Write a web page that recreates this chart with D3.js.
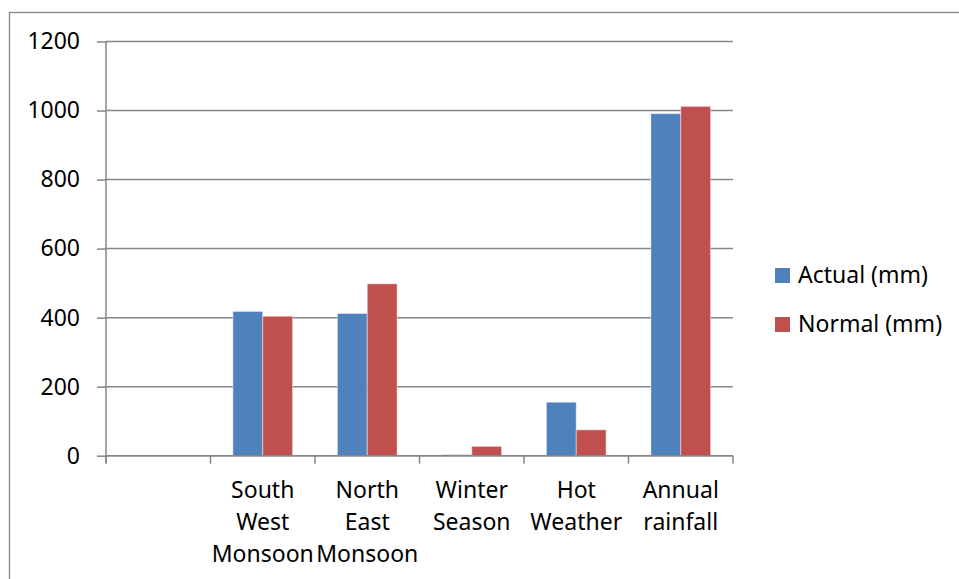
<!DOCTYPE html>
<html>
<head>
<meta charset="utf-8">
<script src="https://cdn.jsdelivr.net/npm/d3@7"></script>
<style>
  html, body { margin: 0; padding: 0; background: #fff; overflow: hidden; }
  svg { display: block; }
  text { font-family: "Noto Sans", "Open Sans", sans-serif; fill: #000; }
</style>
</head>
<body>
<svg id="chart" width="959" height="579"></svg>
<script>
const categories = ["", "South West Monsoon", "North East Monsoon", "Winter Season", "Hot Weather", "Annual rainfall"];
const seriesNames = ["Actual (mm)", "Normal (mm)"];
const actualValues = [null, 418, 412, 3, 155, 991];
const normalValues = [null, 404, 498, 27, 75, 1012];
const yTicks = [0, 200, 400, 600, 800, 1000, 1200];
const seriesColors = ["#4F81BD", "#C0504D"];

(function () {
const seriesValues = [actualValues, normalValues];
const svg = d3.select("#chart");
const gridColor = "#868686";
const fontSize = 23;

// outer frame
svg.append("rect")
  .attr("x", 9.5).attr("y", 12.5)
  .attr("width", 1200).attr("height", 1200)
  .attr("fill", "none").attr("stroke", gridColor).attr("stroke-width", 1.3);

const pLeft = 106, pRight = 733, pTop = 41.5, pBottom = 455.7;

const x0 = d3.scaleBand().domain(categories).range([pLeft, pRight]).padding(0);
const bw = x0.bandwidth();
const gap = bw * 1.5 / 3.5;
const x1 = d3.scaleBand().domain(seriesNames).range([gap / 2, bw - gap / 2]).padding(0);
const y = d3.scaleLinear().domain([0, 1200]).range([pBottom, pTop]);

// gridlines
svg.append("g").selectAll("line").data(yTicks).join("line")
  .attr("x1", pLeft).attr("x2", pRight)
  .attr("y1", d => y(d)).attr("y2", d => y(d))
  .attr("stroke", gridColor).attr("stroke-width", 1.5);

// y axis
const yAxis = svg.append("g").attr("transform", `translate(${pLeft},0)`)
  .call(d3.axisLeft(y).tickValues(yTicks).tickFormat(d3.format("d")).tickSize(9).tickPadding(17));
yAxis.select(".domain").remove();
yAxis.selectAll(".tick line").attr("stroke", gridColor).attr("stroke-width", 1.5);
yAxis.selectAll(".tick text")
  .style("font-family", '"Noto Sans", sans-serif')
  .style("font-size", fontSize + "px").attr("fill", "#000");
svg.append("line")
  .attr("x1", pLeft).attr("x2", pLeft).attr("y1", pTop).attr("y2", pBottom + 7)
  .attr("stroke", gridColor).attr("stroke-width", 1.5);

// bars
const groups = svg.append("g").selectAll("g").data(categories).join("g")
  .attr("transform", d => `translate(${x0(d)},0)`);
groups.selectAll("rect")
  .data((c, i) => seriesNames.map((s, j) => ({ s, j, v: seriesValues[j][i] })).filter(d => d.v != null))
  .join("rect")
  .attr("x", d => x1(d.s))
  .attr("width", x1.bandwidth())
  .attr("y", d => y(d.v))
  .attr("height", d => y(0) - y(d.v))
  .attr("fill", d => seriesColors[d.j])
  .attr("stroke", "rgba(255,255,255,0.45)")
  .attr("stroke-width", 1);

// x axis line and ticks
svg.append("line")
  .attr("x1", pLeft).attr("x2", pRight).attr("y1", pBottom).attr("y2", pBottom)
  .attr("stroke", gridColor).attr("stroke-width", 1.5);
const boundaries = categories.map(c => x0(c)).concat([pRight]);
svg.append("g").selectAll("line").data(boundaries).join("line")
  .attr("x1", d => d).attr("x2", d => d)
  .attr("y1", pBottom).attr("y2", pBottom + 8)
  .attr("stroke", gridColor).attr("stroke-width", 1.5);

// category labels
const labels = svg.append("g").selectAll("text").data(categories).join("text")
  .attr("text-anchor", "middle")
  .style("font-size", fontSize + "px")
  .attr("transform", d => `translate(${x0(d) + bw / 2},498)`);
labels.selectAll("tspan").data(d => d ? d.split(" ") : []).join("tspan")
  .attr("x", 0).attr("y", (d, i) => i * 32).text(d => d);

// legend
const legend = svg.append("g").selectAll("g").data(seriesNames).join("g")
  .attr("transform", (d, i) => `translate(775,${268 + i * 49})`);
legend.append("rect").attr("width", 15).attr("height", 15)
  .attr("fill", (d, i) => seriesColors[i]);
legend.append("text").attr("x", 23).attr("y", 14.5)
  .style("font-size", fontSize + "px").text(d => d);
})();
</script>
</body>
</html>
